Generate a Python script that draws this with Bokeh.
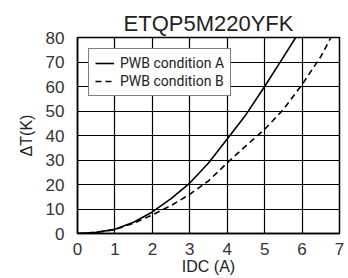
from bokeh.plotting import figure
from bokeh.models import Range1d, FixedTicker, Legend, LegendItem
from bokeh.embed import file_html
from bokeh.resources import INLINE

title_text = "ETQP5M220YFK"
x_label = "IDC (A)"
y_label = "ΔT(K)"
x_ticks = [0, 1, 2, 3, 4, 5, 6, 7]
y_ticks = [0, 10, 20, 30, 40, 50, 60, 70, 80]

a_name = "PWB condition A"
a_x = [0, 0.5, 1, 1.5, 2, 2.5, 3, 3.5, 4, 4.5, 5, 5.5, 5.83]
a_y = [0, 0.5, 1.7, 4.6, 8.8, 14.2, 20.6, 28.8, 38.6, 48.5, 60, 72, 80]

b_name = "PWB condition B"
b_x = [0, 0.5, 1, 1.5, 2, 2.5, 3, 3.5, 4, 4.5, 5, 5.5, 6, 6.5, 6.77]
b_y = [0, 0.4, 1.6, 4.2, 7.6, 11.4, 16, 21.5, 28.8, 35.8, 42.5, 50.6, 60.8, 72.2, 80]

FONT = "Liberation Sans"
LEGEND_FONT = "Roboto"

p = figure(frame_width=262, frame_height=196, output_backend="svg",
           toolbar_location=None, x_range=Range1d(0, 7), y_range=Range1d(0, 80),
           min_border_left=77, min_border_right=9, min_border_top=37, min_border_bottom=44)
p.title.text = title_text
p.title.align = "center"
p.title.text_font = FONT
p.title.text_font_style = "normal"
p.title.text_font_size = "22px"
p.title.text_color = "#222222"
p.title.standoff = 4

p.outline_line_color = "black"
p.outline_line_width = 1.5

for ax, ticks, lab in ((p.xaxis[0], x_ticks, x_label), (p.yaxis[0], y_ticks, y_label)):
    ax.ticker = FixedTicker(ticks=ticks)
    ax.axis_label = lab
    ax.axis_label_text_font = FONT
    ax.axis_label_text_font_style = "normal"
    ax.axis_label_text_font_size = "16px"
    ax.axis_label_text_color = "#222222"
    ax.major_label_text_font = FONT
    ax.major_label_text_font_size = "17px"
    ax.major_label_text_color = "#333333"
    ax.major_tick_line_color = None
    ax.minor_tick_line_color = None
    ax.axis_line_color = "black"
    ax.axis_line_width = 1.5

p.xaxis.major_label_standoff = 3
p.yaxis.major_label_standoff = 7
p.xaxis.axis_label_standoff = 0
p.yaxis.axis_label_standoff = 8

p.xgrid.ticker = FixedTicker(ticks=x_ticks)
p.ygrid.ticker = FixedTicker(ticks=y_ticks)
p.grid.grid_line_color = "black"
p.grid.grid_line_width = 1.2
p.grid.grid_line_alpha = 1.0

ra = p.line(a_x, a_y, line_color="black", line_width=1.6)
rb = p.line(b_x, b_y, line_color="black", line_width=1.6, line_dash="6 4")

legend = Legend(items=[LegendItem(label=a_name, renderers=[ra]),
                       LegendItem(label=b_name, renderers=[rb])],
                location="top_left")
legend.margin = 11
legend.padding = 6
legend.spacing = 2
legend.label_text_font = LEGEND_FONT
legend.label_text_font_size = "14px"
legend.label_text_color = "#222222"
legend.label_height = 16
legend.glyph_height = 16
legend.glyph_width = 19
legend.label_standoff = 6
legend.border_line_color = "black"
legend.border_line_width = 1.5
legend.background_fill_alpha = 1.0
p.add_layout(legend)

open("out.html", "w").write(file_html(p, INLINE))
